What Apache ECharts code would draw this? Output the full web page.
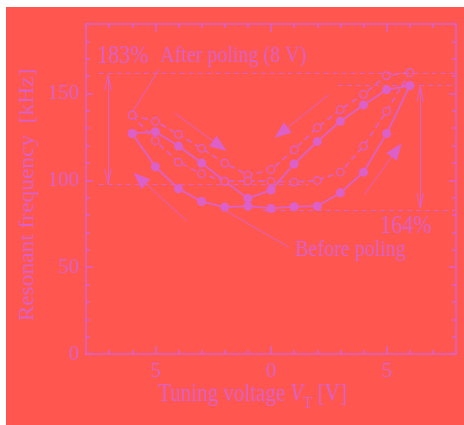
<!DOCTYPE html>
<html>
<head>
<meta charset="utf-8">
<script src="https://cdn.jsdelivr.net/npm/echarts@6/dist/echarts.min.js"></script>
<style>
  html, body { margin: 0; padding: 0; background: #fff; }
  #chart { position: absolute; left: 6px; top: 7px; width: 458px; height: 418px; }
</style>
</head>
<body>
<div id="chart"></div>
<script>
// tuning voltage steps (V)
const voltages = [-6, -5, -4, -3, -2, -1, 0, 1, 2, 3, 4, 5, 6]
// resonant frequency (kHz), before poling: filled circles
const beforeUpper = [127, 128, 119.7, 110, 99.5, 89.6, 94.4, 109.4, 122.3, 134, 143.4, 152.2, 154.5]
const beforeLower = [127, 107.8, 95.1, 87.8, 84.6, 85.1, 83.8, 84.8, 85.1, 92.8, 104.7, 126.9, 154.5]
// after poling (8 V): open circles
const afterUpper = [137.5, 134, 126.5, 118.4, 109.9, 103, 106.1, 117.6, 130.3, 140.7, 149.5, 160.3, 162]
const afterLower = [137.5, 122.8, 110.5, 103.8, 99.4, 99.6, 99.4, 99, 99.9, 104.7, 119.7, 139.7, 162]
// tick labels
const xMajorTicks = [-5, 0, 5]
const yMajorTicks = [0, 50, 100, 150]

const BG = "#FF5650"
const INK = "#DC60C8"
const FONT = "'Liberation Serif', 'DejaVu Serif', serif"

// grid size, used to pull arrow ends back so the head tip lands on the point
const GRID_W = 370, GRID_H = 330
const PX_X = GRID_W / 16, PX_Y = GRID_H / 190
const HEAD = 17

const pairs = (ys) => voltages.map((v, i) => [v, ys[i]])

const chart = echarts.init(document.getElementById("chart"))

// x/y axis helpers: minor ticks on one axis, longer major ticks on an overlaid one
function xAx(position, major, labels) {
  return {
    type: "value", position, min: -8, max: 8, interval: 1,
    axisLine: { show: !major, onZero: false, lineStyle: { color: INK, width: 1.5 } },
    axisTick: major
      ? { show: true, inside: true, length: 8, customValues: xMajorTicks, lineStyle: { color: INK, width: 1.5 } }
      : { show: true, inside: true, length: 4, lineStyle: { color: INK, width: 1.5 } },
    axisLabel: labels
      ? { show: true, margin: 7, color: INK, fontFamily: FONT, fontSize: 21,
          formatter: (v) => (v % 5 === 0 ? String(Math.abs(v)) : "") }
      : { show: false },
    splitLine: { show: false },
  }
}
function yAx(position, major, labels) {
  return {
    type: "value", position, min: 0, max: 190, interval: 10,
    axisLine: { show: !major, onZero: false, lineStyle: { color: INK, width: 1.5 } },
    axisTick: major
      ? { show: true, inside: true, length: 7, customValues: yMajorTicks, lineStyle: { color: INK, width: 1.5 } }
      : { show: true, inside: true, length: 4, lineStyle: { color: INK, width: 1.5 } },
    axisLabel: labels
      ? { show: true, margin: 7, color: INK, fontFamily: FONT, fontSize: 21, padding: [8, 0, 0, 0],
          formatter: (v) => (v % 50 === 0 ? String(v) : "") }
      : { show: false },
    splitLine: { show: false },
  }
}

const lineSeries = (data, filled, dashed) => ({
  type: "line",
  data,
  xAxisIndex: 0,
  yAxisIndex: 0,
  symbol: "circle",
  symbolSize: filled ? 9 : 7.5,
  z: filled ? 3 : 4,
  itemStyle: filled
    ? { color: INK, borderWidth: 0 }
    : { color: BG, borderColor: INK, borderWidth: 1.3 },
  lineStyle: { color: INK, width: filled ? 1.8 : 1.6, type: dashed ? [6, 4] : "solid" },
  animation: false,
})

// annotation geometry (data coordinates)
const seg = (a, b, style) => [
  { coord: a, symbol: "none" },
  { coord: b, symbol: "none", lineStyle: style },
]
const thin = { color: INK, width: 1, type: "solid" }
const dash = { color: INK, width: 1, type: [5, 4] }

// shaft + filled triangle head; end pulled back by half the head length
function arrow(from, tip) {
  const dx = (tip[0] - from[0]) * PX_X, dy = (tip[1] - from[1]) * PX_Y
  const back = HEAD / 2 / Math.hypot(dx, dy)
  const end = [tip[0] - (tip[0] - from[0]) * back, tip[1] - (tip[1] - from[1]) * back]
  return [
    { coord: from, symbol: "none" },
    { coord: end, symbol: "triangle", lineStyle: thin },
  ]
}

function vHead(x, yTip, dir) {
  const len = 8.6 * dir, hw = 0.14
  return [
    seg([x - hw, yTip - len], [x, yTip], thin),
    seg([x + hw, yTip - len], [x, yTip], thin),
  ]
}

const markLines = [
  // reference levels
  seg([-7.45, 161.5], [8, 161.5], dash),
  seg([-7.45, 97.6], [1.6, 97.6], dash),
  seg([2.9, 154.5], [8, 154.5], dash),
  seg([-0.35, 83], [8, 83], dash),
  // change ranges
  seg([-7.05, 160.5], [-7.05, 98], thin),
  ...vHead(-7.05, 160.5, 1),
  ...vHead(-7.05, 98, -1),
  seg([6.45, 154], [6.45, 84], thin),
  ...vHead(6.45, 154, 1),
  ...vHead(6.45, 84, -1),
  // label pointers
  seg([-4.83, 164], [-5.96, 140], thin),
  seg([0.77, 61.5], [-1.92, 82.2], thin),
  // sweep direction arrows
  arrow([-4.15, 138.6], [-1.92, 116.9]),
  arrow([2.52, 149.5], [0.15, 124.3]),
  arrow([-3.67, 77], [-5.95, 104.4]),
  arrow([4.04, 91.9], [5.65, 121.4]),
]

const txt = (text, x, y, size) => ({
  type: "text", x, y, scaleY: 1.17, silent: true,
  style: { text, fill: INK, font: size + "px " + FONT, verticalAlign: "middle" },
})

chart.setOption({
  backgroundColor: BG,
  animation: false,
  grid: { left: 80, top: 17, width: GRID_W, height: GRID_H, containLabel: false },
  xAxis: [xAx("bottom", false, true), xAx("bottom", true, false), xAx("top", false, false), xAx("top", true, false)],
  yAxis: [yAx("left", false, true), yAx("left", true, false), yAx("right", false, false), yAx("right", true, false)],
  series: [
    lineSeries(pairs(beforeUpper), true, false),
    lineSeries(pairs(beforeLower), true, false),
    lineSeries(pairs(afterUpper), false, true),
    lineSeries(pairs(afterLower), false, true),
    {
      type: "line", data: [], xAxisIndex: 0, yAxisIndex: 0, z: 2,
      markLine: { silent: true, animation: false, symbol: ["none", "none"], symbolSize: [13, HEAD],
        label: { show: false }, emphasis: { disabled: true }, data: markLines },
    },
  ],
  graphic: [
    txt("183%", 91, 49, 22),
    txt("After poling (8 V)", 154, 49, 20),
    txt("164%", 374, 219, 22),
    txt("Before poling", 289, 243, 20),
    {
      type: "text", x: 152, y: 388, scaleY: 1.17, silent: true,
      style: {
        text: "Tuning voltage {i|V}{s|T} [V]",
        font: "21px " + FONT, fill: INK, verticalAlign: "middle",
        rich: {
          i: { fontFamily: FONT, fontSize: 21, fontStyle: "italic", fill: INK },
          s: { fontFamily: FONT, fontSize: 15, fill: INK, padding: [14, 0, 0, 0] },
        },
      },
    },
    {
      type: "text", x: 22, y: 188, rotation: Math.PI / 2, scaleX: 1.17, silent: true,
      style: { text: "Resonant frequency  [kHz]", font: "20px " + FONT, fill: INK,
        align: "center", verticalAlign: "middle" },
    },
  ],
})
</script>
</body>
</html>
